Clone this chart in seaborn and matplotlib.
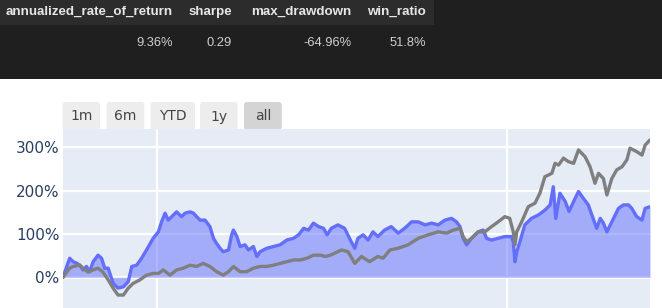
import numpy as np
import pandas as pd
import matplotlib
matplotlib.use("Agg")
import matplotlib.pyplot as plt
from matplotlib import font_manager
from matplotlib.patches import Rectangle, FancyBboxPatch
from matplotlib.ticker import FuncFormatter
import seaborn as sns

# ---------------- data ----------------
metric_names = ["annualized_rate_of_return", "sharpe", "max_drawdown", "win_ratio"]
metric_values = ["9.36%", "0.29", "-64.96%", "51.8%"]
range_buttons = ["1m", "6m", "YTD", "1y", "all"]

strategy_t = [2007.33, 2007.52, 2007.62, 2007.71, 2007.81, 2007.90, 2008.00, 2008.09, 2008.19, 2008.33,
              2008.43, 2008.52, 2008.62, 2008.76, 2008.90, 2009.05, 2009.19, 2009.29, 2009.43, 2009.57,
              2009.71, 2009.90, 2010.05, 2010.14, 2010.24, 2010.33, 2010.43, 2010.57, 2010.71, 2010.81,
              2010.95, 2011.05, 2011.14, 2011.24, 2011.38, 2011.52, 2011.62, 2011.71, 2011.81, 2011.90,
              2012.05, 2012.14, 2012.19, 2012.29, 2012.38, 2012.52, 2012.62, 2012.76, 2012.86, 2012.95,
              2013.14, 2013.33, 2013.52, 2013.71, 2013.90, 2014.05, 2014.19, 2014.33, 2014.47, 2014.62,
              2014.76, 2014.86, 2014.98, 2015.17, 2015.36, 2015.55, 2015.65, 2015.74, 2015.89, 2016.03,
              2016.17, 2016.31, 2016.50, 2016.69, 2016.89, 2017.07, 2017.27, 2017.46, 2017.65, 2017.84,
              2018.03, 2018.22, 2018.41, 2018.55, 2018.65, 2018.74, 2018.84, 2018.98, 2019.17, 2019.31,
              2019.41, 2019.55, 2019.74, 2019.93, 2020.12, 2020.17, 2020.22, 2020.27, 2020.36, 2020.50,
              2020.69, 2020.89, 2021.07, 2021.22, 2021.31, 2021.38, 2021.50, 2021.65, 2021.76, 2021.89,
              2022.03, 2022.17, 2022.31, 2022.41, 2022.55, 2022.65, 2022.74, 2022.84, 2022.98, 2023.17,
              2023.31, 2023.46, 2023.55, 2023.69, 2023.84, 2023.93, 2024.07]
strategy_ret = [0, 44, 36, 33, 28, 17, 25, 13, 36, 51,
                44, 21, 21, -14, -25, -22, -10, 25, 28, 44,
                63, 90, 105, 128, 148, 132, 140, 151, 140, 148,
                151, 148, 140, 132, 132, 117, 90, 78, 67, 59,
                63, 98, 109, 94, 71, 75, 63, 71, 48, 59,
                67, 71, 75, 86, 90, 98, 113, 109, 125, 117,
                113, 98, 113, 121, 113, 82, 67, 90, 98, 86,
                105, 94, 109, 117, 102, 113, 128, 128, 121, 125,
                121, 132, 136, 128, 117, 90, 75, 90, 105, 109,
                90, 86, 90, 94, 94, 82, 36, 59, 82, 121,
                136, 144, 155, 167, 209, 136, 194, 175, 152, 175,
                198, 182, 167, 144, 113, 136, 125, 105, 128, 159,
                167, 167, 159, 140, 132, 159, 163]

benchmark_t = [2007.33, 2007.52, 2007.62, 2007.81, 2007.90, 2008.05, 2008.19, 2008.33, 2008.47, 2008.62,
               2008.76, 2008.90, 2009.05, 2009.19, 2009.33, 2009.52, 2009.71, 2009.90, 2010.05, 2010.19,
               2010.38, 2010.57, 2010.76, 2010.95, 2011.14, 2011.33, 2011.52, 2011.71, 2011.90, 2012.05,
               2012.19, 2012.38, 2012.57, 2012.76, 2012.95, 2013.14, 2013.33, 2013.52, 2013.71, 2013.90,
               2014.09, 2014.29, 2014.47, 2014.67, 2014.81, 2014.95, 2015.27, 2015.46, 2015.65, 2015.84,
               2016.07, 2016.31, 2016.46, 2016.65, 2016.89, 2017.17, 2017.46, 2017.74, 2018.03, 2018.27,
               2018.46, 2018.65, 2018.74, 2018.84, 2018.98, 2019.17, 2019.36, 2019.55, 2019.74, 2019.93,
               2020.07, 2020.17, 2020.22, 2020.27, 2020.41, 2020.60, 2020.79, 2020.93, 2021.07, 2021.27,
               2021.36, 2021.46, 2021.60, 2021.74, 2021.89, 2022.03, 2022.22, 2022.36, 2022.50, 2022.60,
               2022.74, 2022.84, 2022.98, 2023.12, 2023.27, 2023.41, 2023.50, 2023.69, 2023.84, 2023.93,
               2024.07]
benchmark_ret = [0, 21, 25, 28, 21, 12, 17, 21, 12, -6,
                 -25, -41, -41, -25, -14, -6, 5, 9, 9, 17,
                 5, 17, 21, 28, 25, 32, 25, 13, 5, 13,
                 25, 13, 13, 21, 25, 25, 28, 32, 36, 40,
                 40, 44, 51, 51, 48, 51, 63, 59, 32, 48,
                 36, 48, 44, 63, 67, 75, 90, 98, 105, 102,
                 109, 113, 94, 82, 90, 105, 105, 117, 128, 140,
                 136, 105, 75, 105, 128, 163, 171, 194, 232, 240,
                 263, 259, 275, 267, 263, 294, 278, 255, 217, 240,
                 228, 190, 228, 248, 255, 271, 298, 290, 282, 305,
                 317]

y_ticks = [0, 100, 200, 300]
x_grid_years = [2010, 2020]


def to_date(y):
    base = pd.Timestamp(int(y), 1, 1)
    return base + pd.Timedelta(days=(y - int(y)) * 365.25)


strat = pd.DataFrame({"date": [to_date(v) for v in strategy_t], "ret": strategy_ret})
bench = pd.DataFrame({"date": [to_date(v) for v in benchmark_t], "ret": benchmark_ret})

# ---------------- figure ----------------
W, H = 662, 308
sns.set_theme(style="white")
fig = plt.figure(figsize=(W / 100, H / 100), dpi=100)
fig.patch.set_facecolor("white")

# overlay axes in pixel coordinates
ov = fig.add_axes([0, 0, 1, 1], zorder=0)
ov.set_xlim(0, W)
ov.set_ylim(H, 0)
ov.axis("off")
ov.patch.set_alpha(0)

# dark table band
ov.add_patch(Rectangle((0, 0), W, 79, facecolor="#1f1f1f", edgecolor="none"))
ov.add_patch(Rectangle((0, 0), 434, 25, facecolor="#2c2c2c", edgecolor="none"))

names = {f.name for f in font_manager.fontManager.ttflist}
if "Liberation Sans Narrow" in names:
    tfam, hsize, vsize = "Liberation Sans Narrow", 11.7, 11.2
else:
    tfam, hsize, vsize = "Liberation Sans", 9.6, 9.3

col_right = [173, 232, 351, 426]
for name, val, xr in zip(metric_names, metric_values, col_right):
    ov.text(xr, 12, name, ha="right", va="center", color="#e6e6e6",
            fontsize=hsize, fontweight="bold", family=tfam)
    ov.text(xr, 43, val, ha="right", va="center", color="#d0d0d0",
            fontsize=vsize, family=tfam)

# range selector buttons
btn_x = [(62.5, 100), (106.7, 144.3), (150.7, 195), (200, 237.7), (244, 281.7)]
for lab, (x0, x1) in zip(range_buttons, btn_x):
    fc = "#d4d4d4" if lab == "all" else "#ededed"
    ov.add_patch(FancyBboxPatch((x0 + 3, 105), x1 - x0 - 6, 22,
                                boxstyle="round,pad=3", facecolor=fc, edgecolor="none",
                                mutation_aspect=1))
    ov.text((x0 + x1) / 2, 116.5, lab, ha="center", va="center",
            color="#444444", fontsize=10, family="DejaVu Sans")

# ---------------- main plot ----------------
top_px, zero_px, px100 = 128.5, 277.3, 43.33
ax = fig.add_axes([63 / W, 0, (650 - 63) / W, (H - top_px) / H], zorder=2)
ax.set_facecolor("#E5ECF6")
for s in ax.spines.values():
    s.set_visible(False)

ymax = (zero_px - top_px) / px100 * 100
ymin = -(H - zero_px) / px100 * 100

for yv in y_ticks:
    ax.axhline(yv, color="white", lw=2.0 if yv == 0 else 1.6, zorder=0.5)
for yr in x_grid_years:
    ax.axvline(pd.Timestamp(yr, 1, 1), color="white", lw=1.6, zorder=0.5)

ax.fill_between(strat["date"], 0, strat["ret"], color="#636EFA", alpha=0.5,
                linewidth=0, zorder=1)
sns.lineplot(data=bench, x="date", y="ret", ax=ax, color="#7f7f7f", lw=2.4, zorder=3)
sns.lineplot(data=strat, x="date", y="ret", ax=ax, color="#636EFA", lw=2.4, zorder=2)

ax.set_xlim(strat["date"].min(), strat["date"].max())
ax.set_ylim(ymin, ymax)
ax.set_yticks(y_ticks)
ax.yaxis.set_major_formatter(FuncFormatter(lambda v, p: f"{int(v)}%"))
ax.tick_params(axis="y", length=0, pad=2.5, labelsize=11, labelcolor="#2a3f5f")
ax.set_xticks([])
ax.set_xlabel("")
ax.set_ylabel("")
ax.grid(False)
for lab in ax.get_yticklabels():
    lab.set_family("DejaVu Sans")

fig.savefig("out.png", dpi=100, facecolor="white")
